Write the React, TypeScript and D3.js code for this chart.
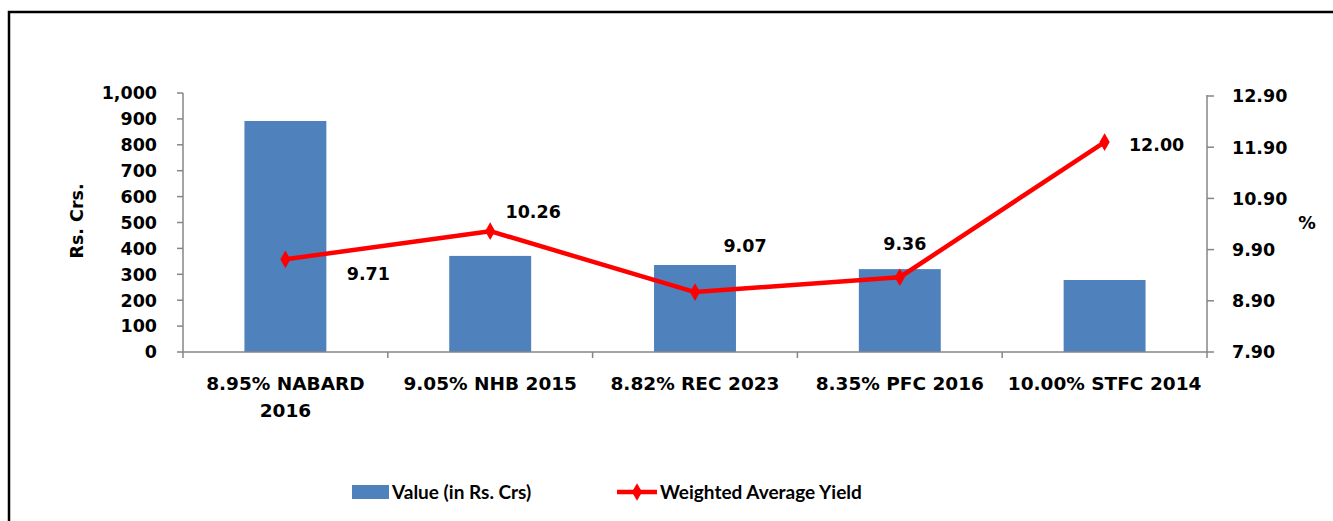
import React from "react";
import * as d3 from "d3";

const categories = ["8.95% NABARD|2016", "9.05% NHB 2015", "8.82% REC 2023", "8.35% PFC 2016", "10.00% STFC 2014"];
const values = [892, 371, 336, 320, 278];
const yields = [9.71, 10.26, 9.07, 9.36, 12.0];
const leftTicks = [0, 100, 200, 300, 400, 500, 600, 700, 800, 900, 1000];
const rightTicks = [7.9, 8.9, 9.9, 10.9, 11.9, 12.9];
const labelOffsets: [number, number][] = [[83, 14], [43, -19], [50, -46], [5, -34], [52, 3]];

const AX_FONT = "'DejaVu Sans', sans-serif";
const LEG_FONT = "Lato, 'Liberation Sans', sans-serif";

export default function App() {
  const W = 1333, H = 521;
  const x0 = 183, x1 = 1207, yTop = 93, yBot = 352;
  const x = d3.scaleBand().domain(categories).range([x0, x1]).paddingInner(0.6).paddingOuter(0.3);
  const xb = d3.scaleBand().domain(categories).range([x0, x1]);
  const yL = d3.scaleLinear().domain([0, 1000]).range([yBot, yTop]);
  const yR = d3.scaleLinear().domain([7.9, 12.9]).range([yBot, 96]);
  const cxOf = (i: number) => xb(categories[i])! + xb.bandwidth() / 2;
  const line = d3.line<number>().x((_, i) => cxOf(i)).y((d) => yR(d));
  const axisColor = "#868686";
  const diamond = d3.symbol().type(d3.symbolDiamond).size(90)();
  const fmt = d3.format(",");
  const fs = 17.5;

  return (
    <svg width={W} height={H} style={{ position: "absolute", left: 0, top: 0, background: "#fff" }}>
      <rect x={9} y={12} width={1400} height={600} fill="#fff" stroke="#000" strokeWidth={2.5} />
      {values.map((v, i) => (
        <rect key={i} x={x(categories[i])!} y={yL(v)} width={x.bandwidth()} height={yBot - yL(v)} fill="#4F81BD" />
      ))}
      <line x1={x0} x2={x0} y1={yTop} y2={yBot} stroke={axisColor} strokeWidth={1.5} />
      {leftTicks.map((t) => (
        <g key={t}>
          <line x1={x0 - 6} x2={x0} y1={yL(t)} y2={yL(t)} stroke={axisColor} strokeWidth={1.5} />
          <text x={157} y={yL(t)} dy="0.36em" textAnchor="end" fontFamily={AX_FONT} fontWeight="bold" fontSize={fs}>{fmt(t)}</text>
        </g>
      ))}
      <text transform={`translate(77,221) rotate(-90)`} textAnchor="middle" dy="0.36em" fontFamily={AX_FONT} fontWeight="bold" fontSize={fs}>Rs. Crs.</text>
      <line x1={x1} x2={x1} y1={95} y2={yBot + 6} stroke={axisColor} strokeWidth={1.5} />
      {rightTicks.map((t) => (
        <g key={t}>
          <line x1={x1} x2={x1 + 7} y1={yR(t)} y2={yR(t)} stroke={axisColor} strokeWidth={1.5} />
          <text x={1232} y={yR(t)} dy="0.36em" textAnchor="start" fontFamily={AX_FONT} fontWeight="bold" fontSize={fs}>{t.toFixed(2)}</text>
        </g>
      ))}
      <text x={1307} y={223} dy="0.36em" textAnchor="middle" fontFamily={AX_FONT} fontWeight="bold" fontSize={fs}>%</text>
      <line x1={x0} x2={x1} y1={yBot} y2={yBot} stroke={axisColor} strokeWidth={1.5} />
      {categories.map((c, i) => (
        <line key={i} x1={xb(c)!} x2={xb(c)!} y1={yBot} y2={yBot + 6} stroke={axisColor} strokeWidth={1.5} />
      ))}
      {categories.map((c, i) => (
        <text key={i} x={cxOf(i)} y={383} textAnchor="middle" fontFamily={AX_FONT} fontWeight="bold" fontSize={18.5}>
          {c.split("|").map((s, j) => (
            <tspan key={j} x={cxOf(i)} dy={j === 0 ? "0.36em" : 27}>{s}</tspan>
          ))}
        </text>
      ))}
      <path d={line(yields)!} fill="none" stroke="#FF0000" strokeWidth={4.5} strokeLinejoin="round" />
      {yields.map((v, i) => (
        <g key={i}>
          <path d={diamond!} transform={`translate(${cxOf(i)},${yR(v)})`} fill="#FF0000" />
          <text x={cxOf(i) + labelOffsets[i][0]} y={yR(v) + labelOffsets[i][1]} dy="0.36em" textAnchor="middle" fontFamily={AX_FONT} fontWeight="bold" fontSize={fs}>{v.toFixed(2)}</text>
        </g>
      ))}
      <rect x={352} y={485} width={37} height={14} fill="#4F81BD" />
      <text x={392} y={492} dy="0.36em" fontFamily={LEG_FONT} fontWeight="bold" fontSize={19}>Value (in Rs. Crs)</text>
      <line x1={617} x2={657} y1={492} y2={492} stroke="#FF0000" strokeWidth={4.5} />
      <path d={diamond!} transform="translate(637,492)" fill="#FF0000" />
      <text x={660} y={492} dy="0.36em" fontFamily={LEG_FONT} fontWeight="bold" fontSize={19}>Weighted Average Yield</text>
    </svg>
  );
}
